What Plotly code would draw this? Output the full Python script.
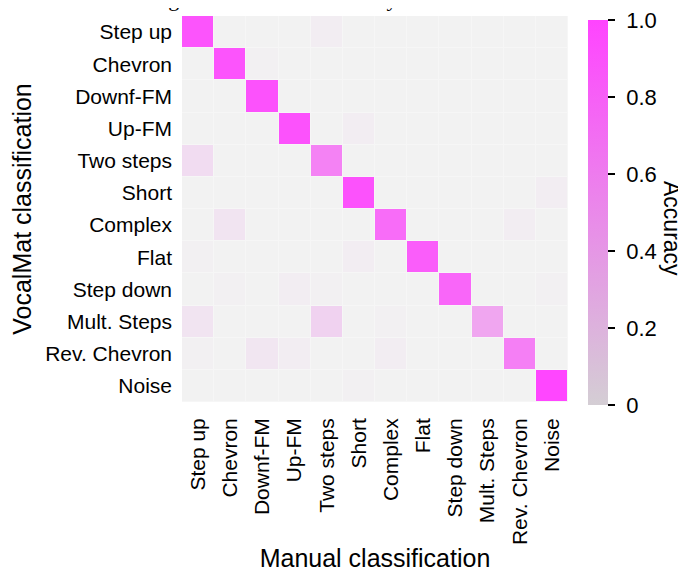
import plotly.graph_objects as go

categories = ["Step up", "Chevron", "Downf-FM", "Up-FM", "Two steps", "Short",
              "Complex", "Flat", "Step down", "Mult. Steps", "Rev. Chevron", "Noise"]

# rows: VocalMat classification (top to bottom), columns: Manual classification
acc_step_up      = [0.92, 0.00, 0.00, 0.00, 0.02, 0.00, 0.00, 0.00, 0.00, 0.00, 0.00, 0.00]
acc_chevron      = [0.00, 0.92, 0.01, 0.00, 0.00, 0.00, 0.00, 0.00, 0.00, 0.00, 0.00, 0.00]
acc_downf_fm     = [0.00, 0.00, 0.93, 0.00, 0.00, 0.00, 0.00, 0.00, 0.00, 0.00, 0.00, 0.00]
acc_up_fm        = [0.00, 0.00, 0.00, 0.93, 0.00, 0.02, 0.00, 0.00, 0.00, 0.00, 0.00, 0.00]
acc_two_steps    = [0.10, 0.00, 0.00, 0.00, 0.62, 0.00, 0.00, 0.00, 0.00, 0.00, 0.00, 0.00]
acc_short        = [0.00, 0.00, 0.00, 0.00, 0.00, 0.93, 0.00, 0.00, 0.00, 0.00, 0.00, 0.02]
acc_complex      = [0.00, 0.06, 0.00, 0.00, 0.00, 0.00, 0.78, 0.00, 0.00, 0.00, 0.02, 0.00]
acc_flat         = [0.01, 0.00, 0.00, 0.00, 0.00, 0.02, 0.00, 0.87, 0.00, 0.00, 0.00, 0.00]
acc_step_down    = [0.00, 0.01, 0.00, 0.02, 0.01, 0.00, 0.00, 0.00, 0.82, 0.00, 0.00, 0.01]
acc_mult_steps   = [0.06, 0.00, 0.00, 0.00, 0.15, 0.00, 0.01, 0.00, 0.00, 0.42, 0.00, 0.00]
acc_rev_chevron  = [0.01, 0.00, 0.05, 0.02, 0.00, 0.00, 0.02, 0.00, 0.00, 0.00, 0.64, 0.00]
acc_noise        = [0.00, 0.00, 0.00, 0.00, 0.00, 0.01, 0.00, 0.00, 0.00, 0.00, 0.00, 0.99]

z = [acc_step_up, acc_chevron, acc_downf_fm, acc_up_fm, acc_two_steps, acc_short,
     acc_complex, acc_flat, acc_step_down, acc_mult_steps, acc_rev_chevron, acc_noise]

colorbar_ticks = [0, 0.2, 0.4, 0.6, 0.8, 1.0]
colorbar_ticktext = ["0", "0.2", "0.4", "0.6", "0.8", "1.0"]

cell_scale = [
    [0.0, "rgb(242,242,242)"],
    [0.05, "rgb(241,230,241)"],
    [0.15, "rgb(240,210,240)"],
    [0.4, "rgb(240,170,240)"],
    [0.6, "rgb(244,133,244)"],
    [0.8, "rgb(248,105,248)"],
    [0.9, "rgb(251,88,251)"],
    [1.0, "rgb(255,68,255)"],
]
bar_scale = [[0.0, "rgb(212,206,212)"], [1.0, "rgb(255,68,255)"]]

# figure is placed at (8, 8) in the page
W, H = 678, 564
L, R, T, B = 174, 118, 8, 170
PW = W - L - R
PH = H - T - B
YB = H - B  # figure y of plot bottom

font_main = "Liberation Sans, Arial, sans-serif"

fig = go.Figure()
fig.add_trace(go.Heatmap(
    z=z, x=categories, y=categories,
    colorscale=cell_scale, zmin=0, zmax=1,
    showscale=False, xgap=1, ygap=1, hoverongaps=False,
))
fig.add_trace(go.Scatter(
    x=[None], y=[None], mode="markers", showlegend=False,
    marker=dict(color=[0], cmin=0, cmax=1, colorscale=bar_scale, showscale=True,
                colorbar=dict(
                    x=(580 - L) / PW, xanchor="left", xref="paper", xpad=0,
                    y=(YB - 204.5) / PH, yanchor="middle", ypad=0,
                    len=385 / PH, lenmode="fraction",
                    thickness=20, outlinewidth=0,
                    tickvals=colorbar_ticks,
                    ticktext=["\u2004" + t for t in colorbar_ticktext],
                    ticklabeloverflow="allow",
                    ticks="outside", ticklen=7, tickwidth=1.5, tickcolor="black",
                    tickfont=dict(family=font_main, size=22, color="black"),
                )),
))

fig.update_layout(
    width=W, height=H,
    margin=dict(l=L, r=R, t=T, b=B, autoexpand=False),
    paper_bgcolor="white",
    plot_bgcolor="rgb(246,246,246)",
    font=dict(family=font_main, color="black"),
    xaxis=dict(
        type="category", tickangle=-90, showgrid=False, zeroline=False,
        tickfont=dict(size=21), ticks="", ticklabelstandoff=11,
        title=dict(text="Manual classification", font=dict(size=25), standoff=6),
    ),
    yaxis=dict(
        type="category", autorange="reversed", showgrid=False, zeroline=False,
        tickfont=dict(size=21), ticks="", ticklabelstandoff=9,
        title=dict(text="VocalMat classification", font=dict(size=25), standoff=10),
    ),
    annotations=[
        dict(text="Accuracy", textangle=90, xref="paper", yref="paper",
             x=(664 - L) / PW, y=(YB - 220) / PH, xanchor="center", yanchor="middle",
             showarrow=False, font=dict(family=font_main, size=23, color="black")),
        dict(text="Figure S5: Overall accuracy for VocalMat classification of the manual dataset",
             xref="paper", yref="paper", x=(140 - L) / PW, y=(YB + 9.5) / PH,
             xanchor="left", yanchor="middle", showarrow=False,
             font=dict(family="Liberation Serif, Times New Roman, serif", size=22, color="black")),
    ],
)

fig.write_html("out.html")
